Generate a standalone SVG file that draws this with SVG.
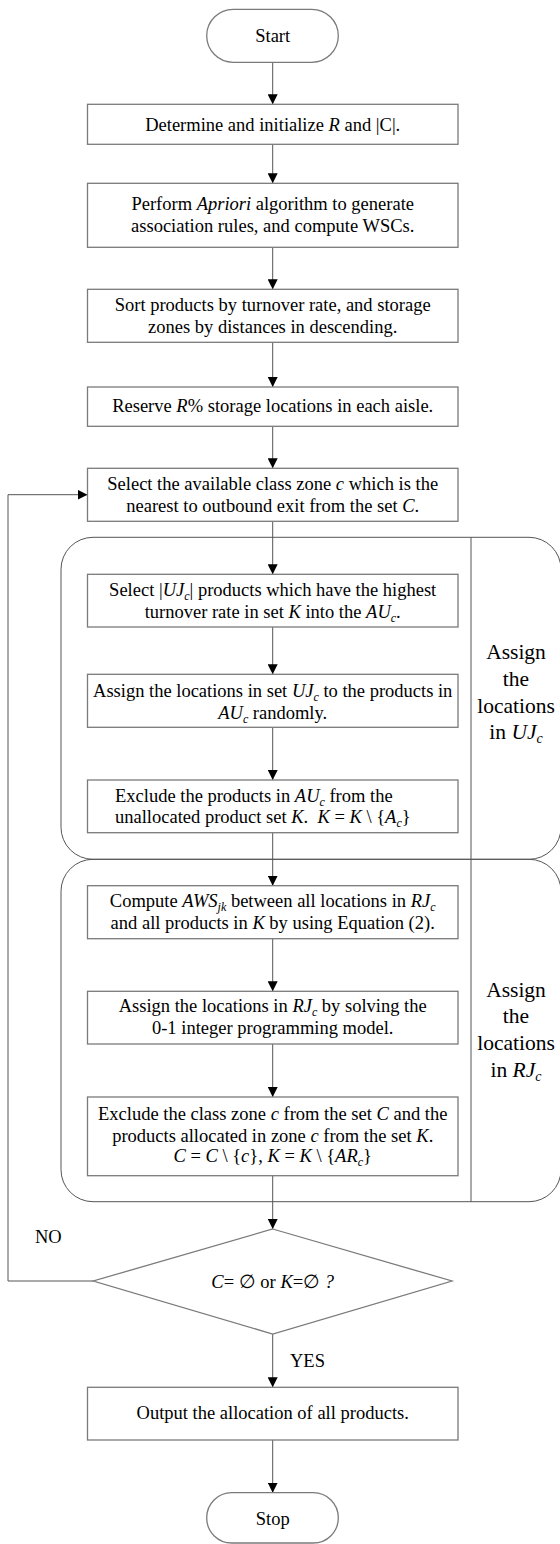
<svg xmlns="http://www.w3.org/2000/svg" width="560" height="1544" viewBox="0 0 560 1544">
<style>
.box{fill:#fff;stroke:#7a7a7a;stroke-width:1.3}
.grp{fill:none;stroke:#555;stroke-width:1}
.ln{fill:none;stroke:#555;stroke-width:1}
text{font-family:"Liberation Serif","Times New Roman",serif;font-size:18.5px;fill:#000}
.c{text-anchor:middle}
.i{font-style:italic}
.s{font-size:12px;font-style:italic}
.lab{font-size:21.5px;text-anchor:middle}
</style>
<defs>
<marker id="ah" viewBox="0 0 10 10" refX="10" refY="5" markerWidth="10" markerHeight="10" markerUnits="userSpaceOnUse" orient="auto">
<path d="M0,0 L10,5 L0,10 Z" fill="#000"/>
</marker>
</defs>
<rect width="560" height="1544" fill="#fff"/>

<g id="group-uj">
<rect class="grp" x="61" y="537.3" width="500" height="322" rx="32" ry="32"/>
<line class="ln" x1="471" y1="537.3" x2="471" y2="859.3"/>
<text class="lab" x="516" y="659.3">Assign</text>
<text class="lab" x="516" y="686">the</text>
<text class="lab" x="516" y="712.7">locations</text>
<text class="lab" x="516" y="739">in <tspan class="i">UJ</tspan><tspan font-size="14" font-style="italic" dy="4">c</tspan></text>
</g>
<g id="group-rj">
<rect class="grp" x="61" y="859.3" width="500" height="342.4" rx="32" ry="32"/>
<line class="ln" x1="471" y1="859.3" x2="471" y2="1201.7"/>
<text class="lab" x="516" y="996.7">Assign</text>
<text class="lab" x="516" y="1023.3">the</text>
<text class="lab" x="516" y="1050">locations</text>
<text class="lab" x="516" y="1076.7">in <tspan class="i">RJ</tspan><tspan font-size="14" font-style="italic" dy="4">c</tspan></text>
</g>

<g id="connectors">
<line class="ln" x1="272.7" y1="62.3" x2="272.7" y2="104.3" marker-end="url(#ah)"/>
<line class="ln" x1="272.7" y1="144.3" x2="272.7" y2="183.3" marker-end="url(#ah)"/>
<line class="ln" x1="272.7" y1="247.3" x2="272.7" y2="289.3" marker-end="url(#ah)"/>
<line class="ln" x1="272.7" y1="342.3" x2="272.7" y2="387" marker-end="url(#ah)"/>
<line class="ln" x1="272.7" y1="426.3" x2="272.7" y2="468.3" marker-end="url(#ah)"/>
<line class="ln" x1="272.7" y1="521.3" x2="272.7" y2="574.3" marker-end="url(#ah)"/>
<line class="ln" x1="272.7" y1="627" x2="272.7" y2="674.3" marker-end="url(#ah)"/>
<line class="ln" x1="272.7" y1="727.3" x2="272.7" y2="780" marker-end="url(#ah)"/>
<line class="ln" x1="272.7" y1="832.7" x2="272.7" y2="885.7" marker-end="url(#ah)"/>
<line class="ln" x1="272.7" y1="938.7" x2="272.7" y2="991.3" marker-end="url(#ah)"/>
<line class="ln" x1="272.7" y1="1044" x2="272.7" y2="1097" marker-end="url(#ah)"/>
<line class="ln" x1="272.7" y1="1175.7" x2="272.7" y2="1229" marker-end="url(#ah)"/>
<line class="ln" x1="272.7" y1="1334" x2="272.7" y2="1387.3" marker-end="url(#ah)"/>
<line class="ln" x1="272.7" y1="1440" x2="272.7" y2="1492.7" marker-end="url(#ah)"/>
<polyline class="ln" points="93.3,1281 8,1281 8,494.7 87.5,494.7" marker-end="url(#ah)"/>
<text x="35" y="1242.7">NO</text>
<text x="290" y="1366.7">YES</text>
</g>

<g id="start">
<rect class="box" x="206.7" y="9.3" width="131.6" height="53" rx="26.5" ry="26.5"/>
<text class="c" x="272.7" y="41.7">Start</text>
</g>
<g id="n1">
<rect class="box" x="87.5" y="104.3" width="370.5" height="40"/>
<text class="c" x="272.7" y="130.5">Determine and initialize <tspan class="i">R</tspan> and |C|.</text>
</g>
<g id="n2">
<rect class="box" x="87.5" y="183.3" width="370.5" height="64"/>
<text class="c" x="272.7" y="209.5">Perform <tspan class="i">Apriori</tspan> algorithm to generate</text>
<text class="c" x="272.7" y="232.3">association rules, and compute WSCs.</text>
</g>
<g id="n3">
<rect class="box" x="87.5" y="289.3" width="370.5" height="53"/>
<text class="c" x="272.7" y="310.5">Sort products by turnover rate, and storage</text>
<text class="c" x="272.7" y="333">zones by distances in descending.</text>
</g>
<g id="n4">
<rect class="box" x="87.5" y="387" width="370.5" height="39.3"/>
<text class="c" x="272.7" y="411.5">Reserve <tspan class="i">R</tspan>% storage locations in each aisle.</text>
</g>
<g id="n5">
<rect class="box" x="87.5" y="468.3" width="370.5" height="53"/>
<text class="c" x="272.7" y="490">Select the available class zone <tspan class="i">c</tspan> which is the</text>
<text class="c" x="272.7" y="511.7">nearest to outbound exit from the set <tspan class="i">C</tspan>.</text>
</g>
<g id="n6">
<rect class="box" x="87.5" y="574.3" width="370.5" height="52.7"/>
<text class="c" x="272.7" y="595.5">Select |<tspan class="i">UJ</tspan><tspan class="s" dy="4">c</tspan><tspan dy="-4">| products which have the highest</tspan></text>
<text class="c" x="272.7" y="617.5">turnover rate in set <tspan class="i">K</tspan> into the <tspan class="i">AU</tspan><tspan class="s" dy="4">c</tspan><tspan dy="-4">.</tspan></text>
</g>
<g id="n7">
<rect class="box" x="87.5" y="674.3" width="370.5" height="53"/>
<text class="c" x="272.7" y="697">Assign the locations in set <tspan class="i">UJ</tspan><tspan class="s" dy="4">c</tspan><tspan dy="-4"> to the products in</tspan></text>
<text class="c" x="272.7" y="719.3"><tspan class="i">AU</tspan><tspan class="s" dy="4">c</tspan><tspan dy="-4"> randomly.</tspan></text>
</g>
<g id="n8">
<rect class="box" x="87.5" y="780" width="370.5" height="52.7"/>
<text x="115" y="801.7">Exclude the products in <tspan class="i">AU</tspan><tspan class="s" dy="4">c</tspan><tspan dy="-4"> from the</tspan></text>
<text x="115" y="823.3">unallocated product set <tspan class="i">K</tspan>.&#160; <tspan class="i">K</tspan> = <tspan class="i">K</tspan> \ {<tspan class="i">A</tspan><tspan class="s" dy="4">c</tspan><tspan dy="-4">}</tspan></text>
</g>
<g id="n9">
<rect class="box" x="87.5" y="885.7" width="370.5" height="53"/>
<text class="c" x="272.7" y="906.5">Compute <tspan class="i">AWS</tspan><tspan class="s" dy="4">jk</tspan><tspan dy="-4"> between all locations in </tspan><tspan class="i">RJ</tspan><tspan class="s" dy="4">c</tspan></text>
<text class="c" x="272.7" y="928.5">and all products in <tspan class="i">K</tspan> by using Equation (2).</text>
</g>
<g id="n10">
<rect class="box" x="87.5" y="991.3" width="370.5" height="52.7"/>
<text class="c" x="272.7" y="1012">Assign the locations in <tspan class="i">RJ</tspan><tspan class="s" dy="4">c</tspan><tspan dy="-4"> by solving the</tspan></text>
<text class="c" x="272.7" y="1034">0-1 integer programming model.</text>
</g>
<g id="n11">
<rect class="box" x="87.5" y="1097" width="370.5" height="78.7"/>
<text class="c" x="272.7" y="1119.5">Exclude the class zone <tspan class="i">c</tspan> from the set <tspan class="i">C</tspan> and the</text>
<text class="c" x="272.7" y="1141.7">products allocated in zone <tspan class="i">c</tspan> from the set <tspan class="i">K</tspan>.</text>
<text class="c" x="272.7" y="1162"><tspan class="i">C</tspan> = <tspan class="i">C</tspan> \ {<tspan class="i">c</tspan>}, <tspan class="i">K</tspan> = <tspan class="i">K</tspan> \ {<tspan class="i">AR</tspan><tspan class="s" dy="4">c</tspan><tspan dy="-4">}</tspan></text>
</g>
<g id="decision">
<polygon class="box" points="272.7,1229 452,1281 272.7,1334 93.3,1281"/>
<text class="c" x="272.7" y="1287.5"><tspan class="i">C</tspan>= ∅ or <tspan class="i">K</tspan>=∅ <tspan class="i">?</tspan></text>
</g>
<g id="n12">
<rect class="box" x="87.5" y="1387.3" width="370.5" height="52.7"/>
<text class="c" x="272.7" y="1418.5">Output the allocation of all products.</text>
</g>
<g id="stop">
<rect class="box" x="206.7" y="1492.7" width="131.6" height="50.3" rx="25" ry="25"/>
<text class="c" x="272.7" y="1525">Stop</text>
</g>
</svg>
